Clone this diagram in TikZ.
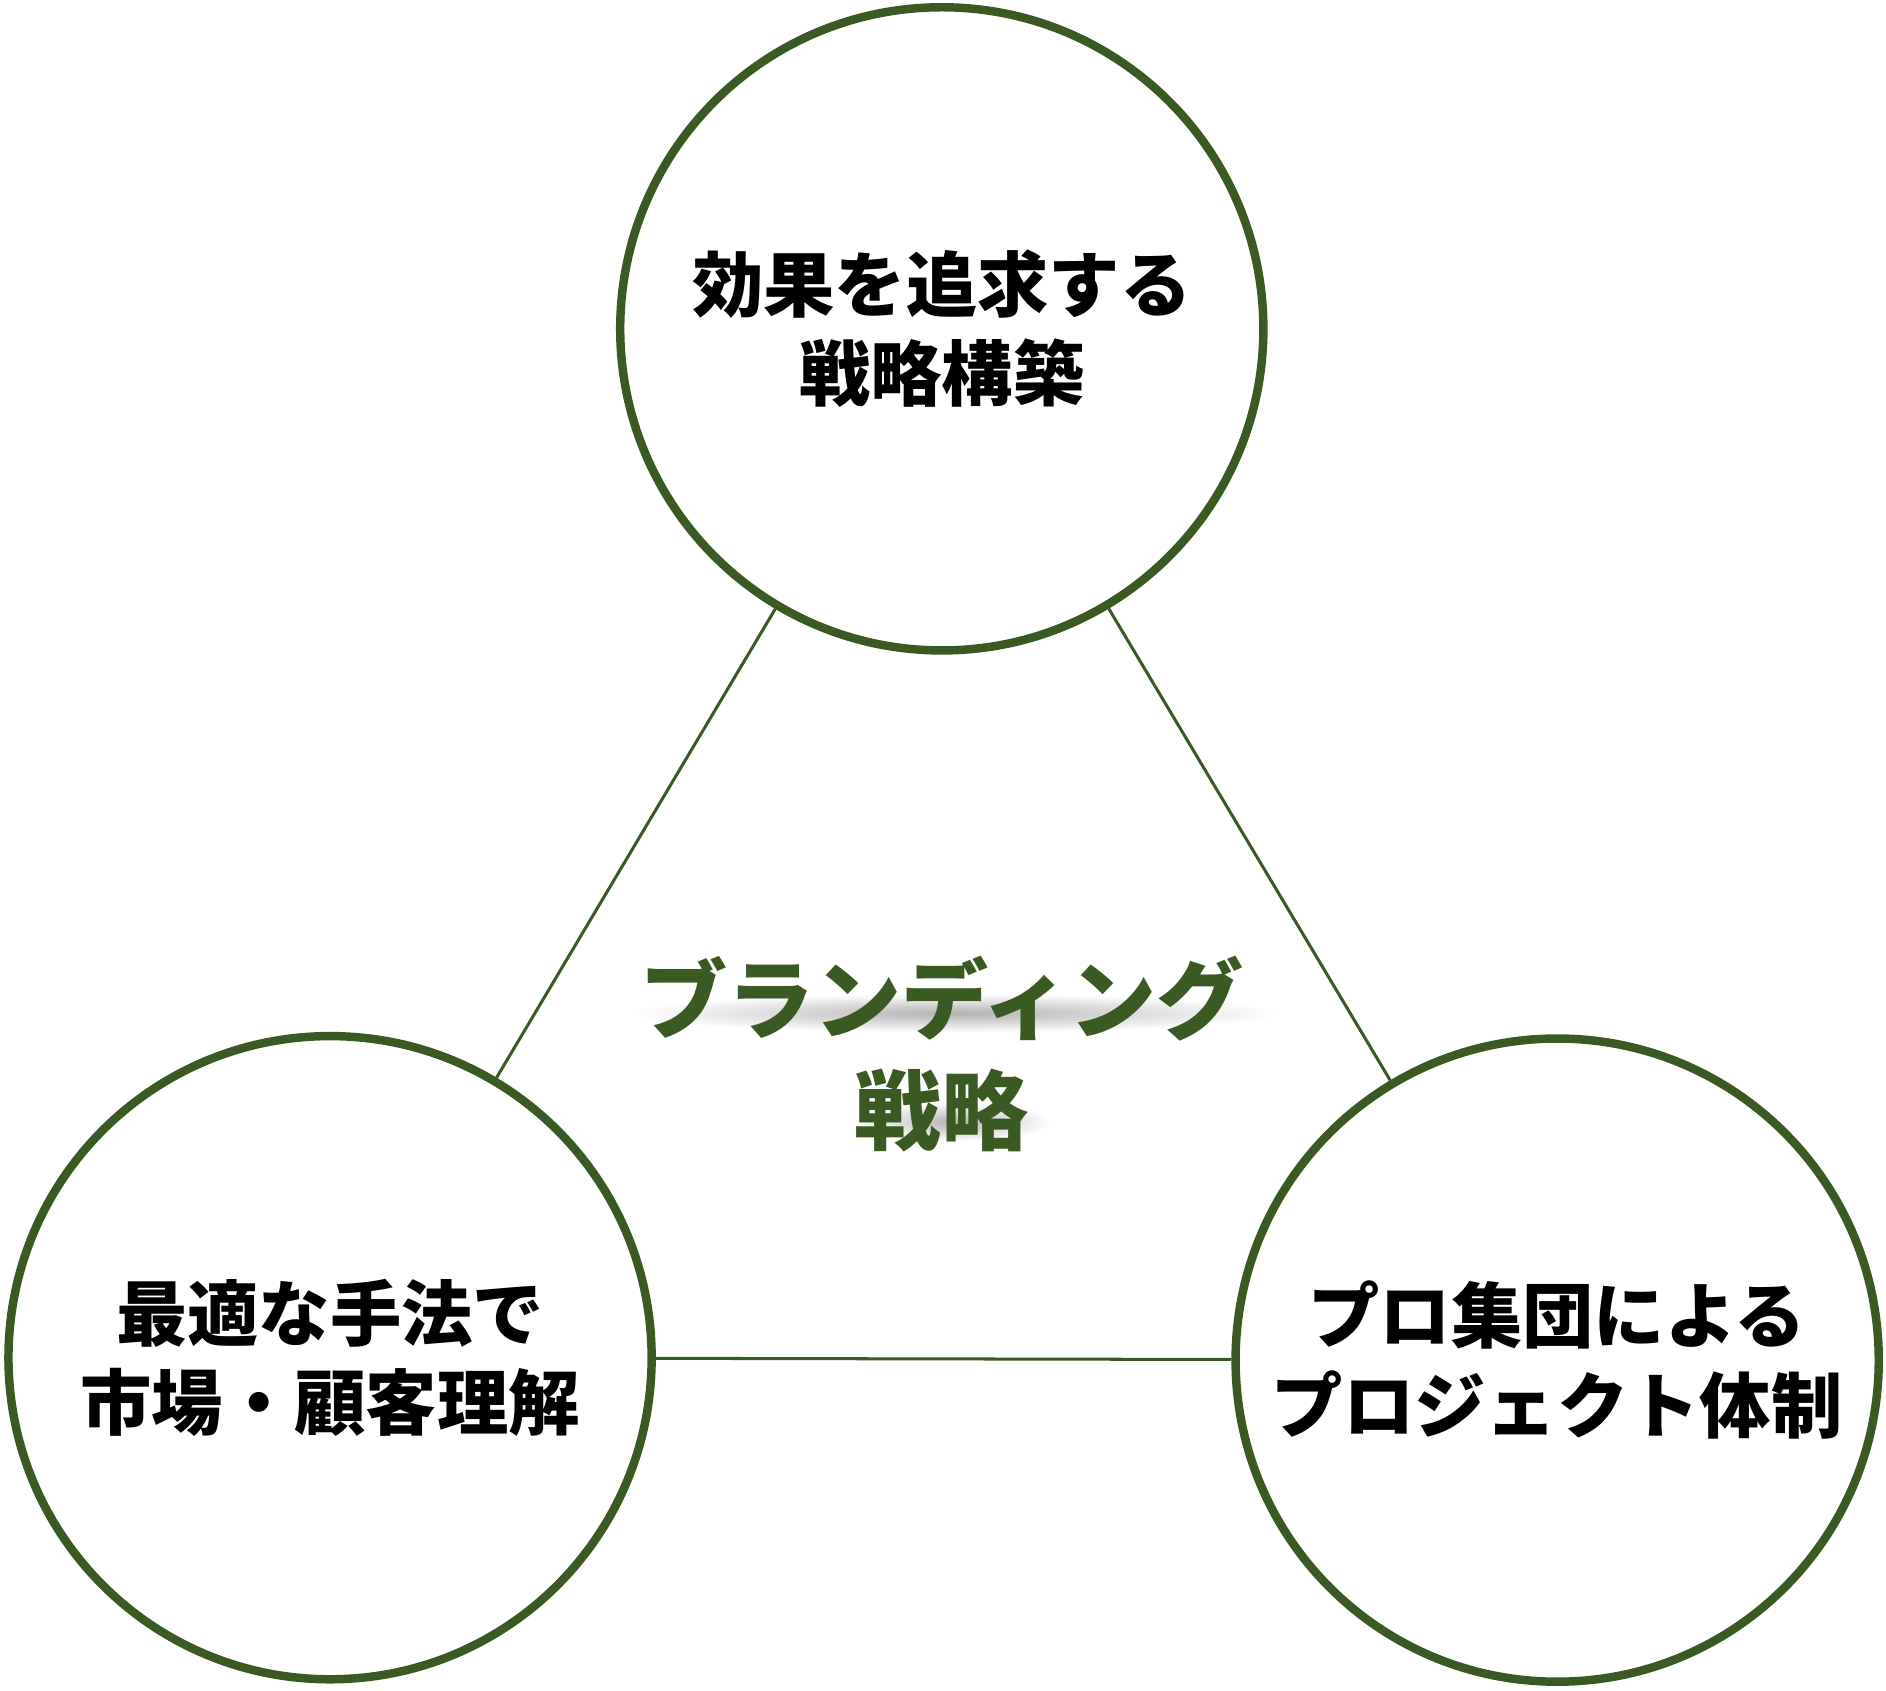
\documentclass[tikz,border=0pt]{standalone}
\usepackage{fontspec}
\setmainfont{Noto Sans CJK JP}
\definecolor{leaf}{HTML}{3B5A23}
\tikzset{
  circ/.style={circle, draw=leaf, line width=7pt, minimum size=532pt, align=center,
    font=\fontsize{59}{74}\selectfont\bfseries},
  link/.style={draw=leaf, line width=2.5pt},
  core/.style={align=center, text=leaf, font=\fontsize{72}{92}\selectfont\bfseries},
  smear/.style={inner color=black!30, outer color=white, draw=none}
}
\begin{document}
\begin{tikzpicture}[x=1pt,y=-1pt]
\useasboundingbox (0,0) rectangle (1560,1398);
% three circles
\node (top) [circ] at (779,272) {効果を追求する\\戦略構築};
\node (left) [circ] at (273,1123) {最適な手法で\\市場・顧客理解};
\node (right) [circ] at (1288,1125) {プロ集団による\\プロジェクト体制};
\draw [link] (top) -- (left);
\draw [link] (top) -- (right);
\draw [link] (left) -- (right);
% centre text with soft shadow
\shade [smear] (790,838) ellipse (270 and 16);
\shade [smear] (790,928) ellipse (80 and 16);
\node (core) [core] at (779,872) {ブランディング\\戦略};
\end{tikzpicture}
\end{document}
